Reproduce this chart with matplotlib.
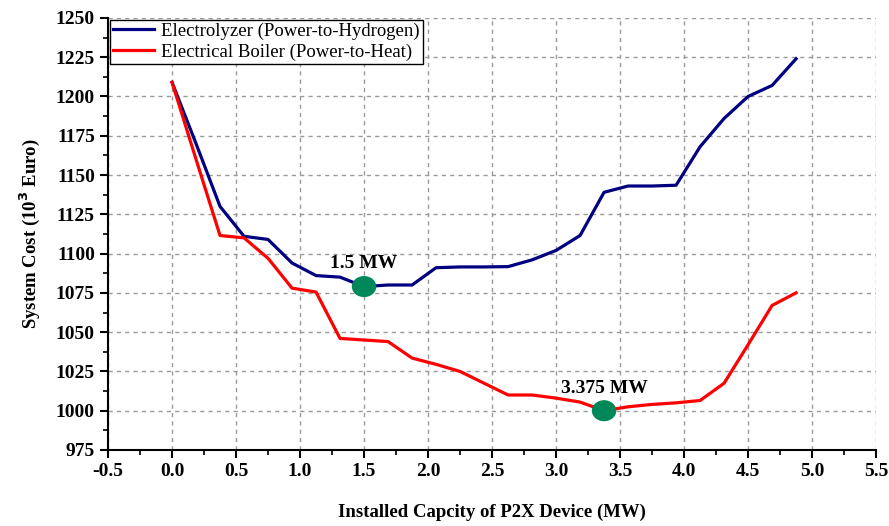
import matplotlib.pyplot as plt
from matplotlib.patches import Ellipse
from matplotlib.ticker import MultipleLocator
import numpy as np

#=========================================#
#  System cost vs installed P2X capacity  #
#=========================================#
capacity = [0, 0.1875, 0.375, 0.5625, 0.75, 0.9375, 1.125, 1.3125, 1.5, 1.6875,
            1.875, 2.0625, 2.25, 2.4375, 2.625, 2.8125, 3.0, 3.1875, 3.375, 3.5625,
            3.75, 3.9375, 4.125, 4.3125, 4.5, 4.6875, 4.875]

cost_electrolyzer = [1209, 1170, 1130, 1111, 1109, 1094, 1086, 1085, 1079, 1080,
                     1080, 1091, 1091.5, 1091.5, 1091.7, 1096, 1102, 1111.5, 1139, 1143,
                     1143, 1143.5, 1168, 1186, 1200, 1207, 1224]

cost_boiler = [1209, 1160, 1111.5, 1110, 1097, 1078, 1075.5, 1046, 1045, 1044,
               1033.5, 1029.5, 1025, 1017.5, 1010, 1010, 1008, 1005.5, 1000, 1002.5,
               1004, 1005, 1006.5, 1017.5, 1042, 1067, 1075]

optimum_x = [1.5, 3.375]
optimum_y = [1079, 1000]
optimum_labels = ['1.5 MW', '3.375 MW']

plt.rcParams['font.family'] = ['Liberation Serif', 'DejaVu Serif']

fig = plt.figure(figsize=(8.89, 5.26), dpi=100)
ax = fig.add_axes([0.1215, 0.1445, 0.864, 0.8215])

ax.plot(capacity, cost_electrolyzer, color='#000080', lw=2.3,
        label='Electrolyzer (Power-to-Hydrogen)', zorder=3)
ax.plot(capacity, cost_boiler, color='#ff0000', lw=2.3,
        label='Electrical Boiler (Power-to-Heat)', zorder=3)

# green dots at optimum (ellipse so they look the same as the original)
for x, y, lab in zip(optimum_x, optimum_y, optimum_labels):
    ax.add_patch(Ellipse((x, y), 0.18, 12.5, color='#00875a', zorder=4))
    ax.text(x, y + 9, lab, ha='center', va='bottom', fontsize=14,
            fontweight='bold', zorder=5)

ax.set_xlim(-0.5, 5.5)
ax.set_ylim(975, 1250)
ax.xaxis.set_major_locator(MultipleLocator(0.5))
ax.xaxis.set_minor_locator(MultipleLocator(0.25))
ax.yaxis.set_major_locator(MultipleLocator(25))
ax.yaxis.set_minor_locator(MultipleLocator(12.5))
ax.xaxis.set_major_formatter(plt.FormatStrFormatter('%.1f'))

ax.spines['top'].set_visible(False)
ax.spines['right'].set_visible(False)
ax.spines['left'].set_linewidth(1.5)
ax.spines['bottom'].set_linewidth(1.5)
ax.tick_params(which='major', direction='out', length=6, width=1.5, labelsize=14)
ax.tick_params(which='minor', direction='out', length=3.5, width=1.2)
for t in ax.get_xticklabels() + ax.get_yticklabels():
    t.set_fontweight('bold')

ax.grid(True, which='major', ls=(0, (3, 3)), color='#999999', lw=1.0)
ax.set_axisbelow(True)

ax.set_xlabel('Installed Capcity of P2X Device (MW)', fontsize=13.5,
              fontweight='bold', labelpad=17)
ax.set_ylabel('System Cost (10$^\\mathbf{3}$ Euro)', fontsize=13.5,
              fontweight='bold', labelpad=10)

leg = ax.legend(loc='upper left', fontsize=13.5, fancybox=False, framealpha=1,
                edgecolor='black', borderaxespad=0.1, handlelength=2.2,
                handletextpad=0.4, borderpad=0.15, labelspacing=0.2)
leg.get_frame().set_linewidth(1.0)

plt.savefig('out.png', dpi=100)
